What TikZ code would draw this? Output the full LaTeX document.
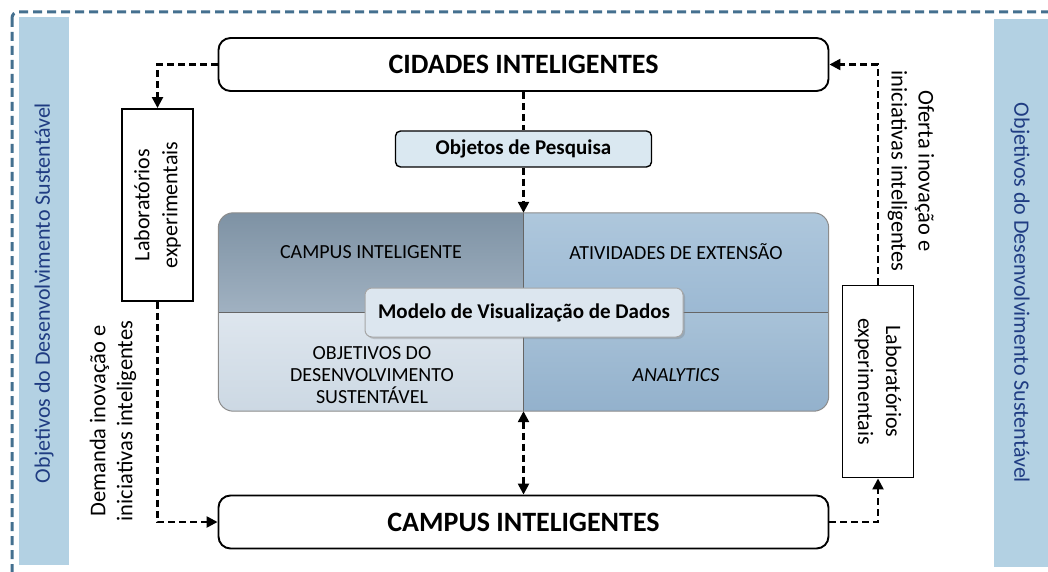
\documentclass[tikz,border=0pt]{standalone}
\usepackage{fontspec}
\setmainfont{Carlito}
\usetikzlibrary{arrows.meta,shadows}
\definecolor{bandblue}{HTML}{B3D1E3}
\definecolor{bandtext}{HTML}{1F3C82}
\definecolor{frameblue}{HTML}{44708F}
\definecolor{objfill}{HTML}{DAE8F1}
\definecolor{tlA}{HTML}{7E92A4}
\definecolor{tlB}{HTML}{A0B1C1}
\definecolor{trA}{HTML}{AEC7DC}
\definecolor{trB}{HTML}{9CB9D3}
\definecolor{blA}{HTML}{DEE6EE}
\definecolor{blB}{HTML}{CCD8E3}
\definecolor{brA}{HTML}{A8C2D8}
\definecolor{brB}{HTML}{93B1CC}
\definecolor{modfill}{HTML}{DCE6EF}
\begin{document}
\begin{tikzpicture}[x=1pt,y=-1pt,
  bigbox/.style={draw=black, line width=1.9pt, rounded corners=12pt, fill=white,
    minimum width=610pt, minimum height=53pt, inner sep=0pt,
    font=\fontsize{28}{32}\selectfont\bfseries},
  labbox/.style={draw=black, line width=1.9pt, fill=white, inner sep=0pt,
    minimum width=71pt, minimum height=192pt},
  labtext/.style={align=center, font=\fontsize{22}{28}\selectfont},
  sidetext/.style={align=center, font=\fontsize{22.5}{27}\selectfont},
  bandtxt/.style={text=bandtext, font=\fontsize{22}{26}\selectfont},
  quadtext/.style={align=center, font=\fontsize{20}{22}\selectfont},
  conn/.style={draw=black, line width=2.4pt, dash pattern=on 7pt off 4pt},
  tip/.style={-{Triangle[length=11pt,width=11pt]}},
  tips/.style={{Triangle[length=11pt,width=11pt]}-{Triangle[length=11pt,width=11pt]}}
]
\useasboundingbox (0,0) rectangle (1048,572);
\fill[white] (0,0) rectangle (1048,572);

% outer dashed frame (cut by the picture's edges)
\begin{scope}
  \clip (0,0) rectangle (1048,572);
  \draw[frameblue, line width=3pt, dash pattern=on 9pt off 5pt, rounded corners=6pt]
    (12,12) rectangle (1070,600);
\end{scope}

% side bands
\fill[bandblue] (19,17) rectangle (69,565);
\fill[bandblue] (994,19) rectangle (1048,567);
\node[bandtxt, rotate=90] (bandL) at (44,293) {Objetivos do Desenvolvimento Sustentável};
\node[bandtxt, rotate=-90] (bandR) at (1020,293) {Objetivos do Desenvolvimento Sustentável};

% main boxes
\node[bigbox] (cid) at (523.5,64.5) {CIDADES INTELIGENTES};
\node[bigbox] (cam) at (523.5,522) {CAMPUS INTELIGENTES};

\node[draw=black, line width=1.4pt, rounded corners=5pt, fill=objfill,
  minimum width=256pt, minimum height=36pt, inner sep=0pt,
  font=\fontsize{21}{24}\selectfont\bfseries] (obj) at (523.5,149) {Objetos de Pesquisa};

% laboratories
\node[labbox] (labL) at (157.5,205) {};
\node[labtext, rotate=90] (labLt) at (labL) {Laboratórios\\experimentais};
\node[labbox] (labR) at (878,381.5) {};
\node[labtext, rotate=-90] (labRt) at (labR) {Laboratórios\\experimentais};

% side labels
\node[sidetext, rotate=90] (dem) at (113,421) {Demanda inovação e\\iniciativas inteligentes};
\node[sidetext, rotate=-90] (ofe) at (911,171) {Oferta inovação e\\iniciativas inteligentes};

% central grid
\node[minimum width=610pt, minimum height=198pt, inner sep=0pt] (grid) at (523.5,312) {};
\begin{scope}
  \clip[rounded corners=15pt] (grid.north west) rectangle (grid.south east);
  \shade[top color=tlA, bottom color=tlB] (grid.north west) rectangle (grid.center);
  \shade[top color=trA, bottom color=trB] (grid.north -| grid.center) rectangle (grid.east);
  \shade[top color=blA, bottom color=blB] (grid.west) rectangle (grid.south);
  \shade[top color=brA, bottom color=brB] (grid.center) rectangle (grid.south east);
  \draw[black!60, line width=0.8pt] (grid.north) -- (grid.south);
  \draw[black!60, line width=0.8pt] (grid.west) -- (grid.east);
\end{scope}
\draw[black!45, line width=1pt, rounded corners=15pt] (grid.north west) rectangle (grid.south east);

\node[quadtext] (q1) at (371,252) {CAMPUS INTELIGENTE};
\node[quadtext] (q2) at (676,252) {ATIVIDADES DE EXTENSÃO};
\node[quadtext] (q3) at (372,375) {OBJETIVOS DO\\DESENVOLVIMENTO\\SUSTENTÁVEL};
\node[quadtext, font=\fontsize{20}{22}\selectfont\itshape] (q4) at (676,375) {ANALYTICS};

\node[draw=black!35, line width=1pt, rounded corners=7pt, fill=modfill,
  drop shadow={opacity=0.35, shadow xshift=2pt, shadow yshift=-2pt},
  minimum width=318pt, minimum height=49pt, inner sep=0pt,
  font=\fontsize{21}{24}\selectfont\bfseries] (mod) at (524,312.5) {Modelo de Visualização de Dados};

% connectors
\draw[conn] (cid.south) -- (obj.north);
\draw[conn, tip] (obj.south) -- (grid.north);
\draw[conn, tips] (grid.south) -- (cam.north);
\draw[conn, tip] (cid.west) -| (labL.north);
\draw[conn, tip] (labL.south) |- (cam.west);
\draw[conn, tip] (cam.east) -| (labR.south);
\draw[conn, tip] (labR.north) |- (cid.east);
\end{tikzpicture}
\end{document}
